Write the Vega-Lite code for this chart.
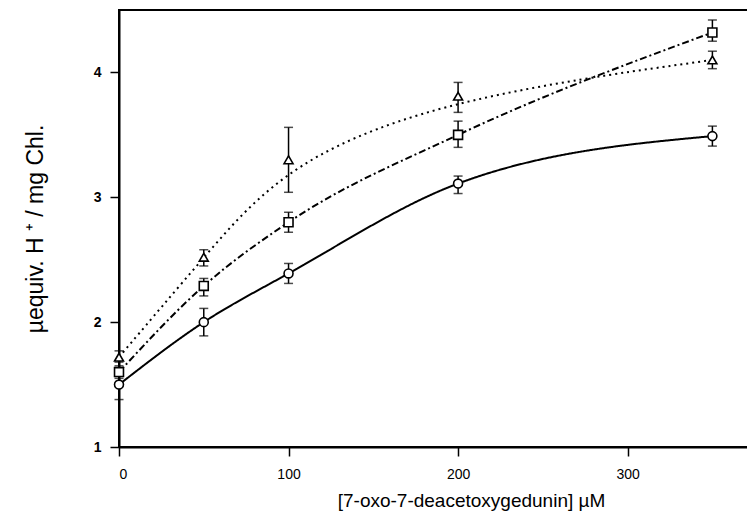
{
  "$schema": "https://vega.github.io/schema/vega-lite/v6.json",
  "width": 629,
  "height": 437,
  "autosize": {"type": "none"},
  "padding": {"left": 119, "top": 10, "right": 0, "bottom": 76},
  "background": "white",
  "config": {
    "view": {"stroke": "black", "strokeWidth": 2},
    "axis": {
      "grid": false,
      "domainColor": "black",
      "domainWidth": 2,
      "tickColor": "black",
      "tickWidth": 1.5,
      "tickSize": 9,
      "labelColor": "black",
      "labelFont": "Liberation Sans",
      "labelFontSize": 14,
      "titleColor": "black",
      "titleFont": "Liberation Sans",
      "titleFontWeight": "normal"
    }
  },
  "data": {
    "values": [
      {"series": "circle", "x": 0, "y": 1.50, "lo": 1.38, "hi": 1.62},
      {"series": "circle", "x": 50, "y": 2.00, "lo": 1.89, "hi": 2.11},
      {"series": "circle", "x": 100, "y": 2.39, "lo": 2.31, "hi": 2.47},
      {"series": "circle", "x": 200, "y": 3.11, "lo": 3.03, "hi": 3.17},
      {"series": "circle", "x": 350, "y": 3.49, "lo": 3.41, "hi": 3.57},
      {"series": "square", "x": 0, "y": 1.60, "lo": 1.55, "hi": 1.65},
      {"series": "square", "x": 50, "y": 2.29, "lo": 2.21, "hi": 2.35},
      {"series": "square", "x": 100, "y": 2.80, "lo": 2.72, "hi": 2.88},
      {"series": "square", "x": 200, "y": 3.50, "lo": 3.40, "hi": 3.61},
      {"series": "square", "x": 350, "y": 4.32, "lo": 4.25, "hi": 4.42},
      {"series": "triangle", "x": 0, "y": 1.72, "lo": 1.68, "hi": 1.77},
      {"series": "triangle", "x": 50, "y": 2.52, "lo": 2.45, "hi": 2.58},
      {"series": "triangle", "x": 100, "y": 3.30, "lo": 3.04, "hi": 3.56},
      {"series": "triangle", "x": 200, "y": 3.81, "lo": 3.68, "hi": 3.92},
      {"series": "triangle", "x": 350, "y": 4.10, "lo": 4.03, "hi": 4.17}
    ]
  },
  "encoding": {
    "x": {
      "field": "x",
      "type": "quantitative",
      "scale": {"domain": [0, 371], "nice": false, "zero": false},
      "axis": {
        "values": [0, 100, 200, 300],
        "format": "d",
        "labelPadding": 11,
        "title": "[7-oxo-7-deacetoxygedunin]  µM",
        "titleFontSize": 19,
        "titlePadding": 10,
        "titleX": 352
      }
    }
  },
  "layer": [
    {
      "transform": [{"filter": "datum.series !== 'triangle'"}],
      "mark": {"type": "line", "interpolate": "monotone", "color": "black", "strokeWidth": 2},
      "encoding": {
        "y": {
          "field": "y",
          "type": "quantitative",
          "title": "µequiv.  H ⁺  /  mg  Chl.",
          "scale": {"domain": [1, 4.5], "nice": false, "zero": false},
          "axis": {
            "values": [1, 2, 3, 4],
            "format": "d",
            "labelPadding": 9,
            "labelFontWeight": "bold",
            "titleFontSize": 23,
            "titlePadding": 46
          }
        },
        "detail": {"field": "series"},
        "strokeDash": {
          "field": "series",
          "type": "nominal",
          "scale": {"domain": ["circle", "square", "triangle"], "range": [[1, 0], [7, 3, 2, 3], [2, 4]]},
          "legend": null
        }
      }
    },
    {
      "transform": [{"filter": "datum.series === 'triangle'"}],
      "mark": {"type": "line", "interpolate": "basis", "color": "black", "strokeWidth": 2, "strokeDash": [2, 4]},
      "encoding": {
        "y": {"field": "y", "type": "quantitative", "title": "µequiv.  H ⁺  /  mg  Chl."}
      }
    },
    {
      "mark": {"type": "errorbar", "color": "black", "ticks": {"size": 9, "thickness": 1.5, "color": "black"}, "rule": {"strokeWidth": 1.5, "color": "black"}},
      "encoding": {
        "y": {"field": "lo", "type": "quantitative", "title": "µequiv.  H ⁺  /  mg  Chl."},
        "y2": {"field": "hi"},
        "detail": {"field": "series"}
      }
    },
    {
      "mark": {"type": "point", "filled": true, "fill": "white", "stroke": "black", "strokeWidth": 1.6, "size": 80, "opacity": 1},
      "encoding": {
        "y": {"field": "y", "type": "quantitative", "title": "µequiv.  H ⁺  /  mg  Chl."},
        "shape": {
          "field": "series",
          "type": "nominal",
          "scale": {"domain": ["circle", "square", "triangle"], "range": ["circle", "square", "triangle-up"]},
          "legend": null
        }
      }
    }
  ]
}
